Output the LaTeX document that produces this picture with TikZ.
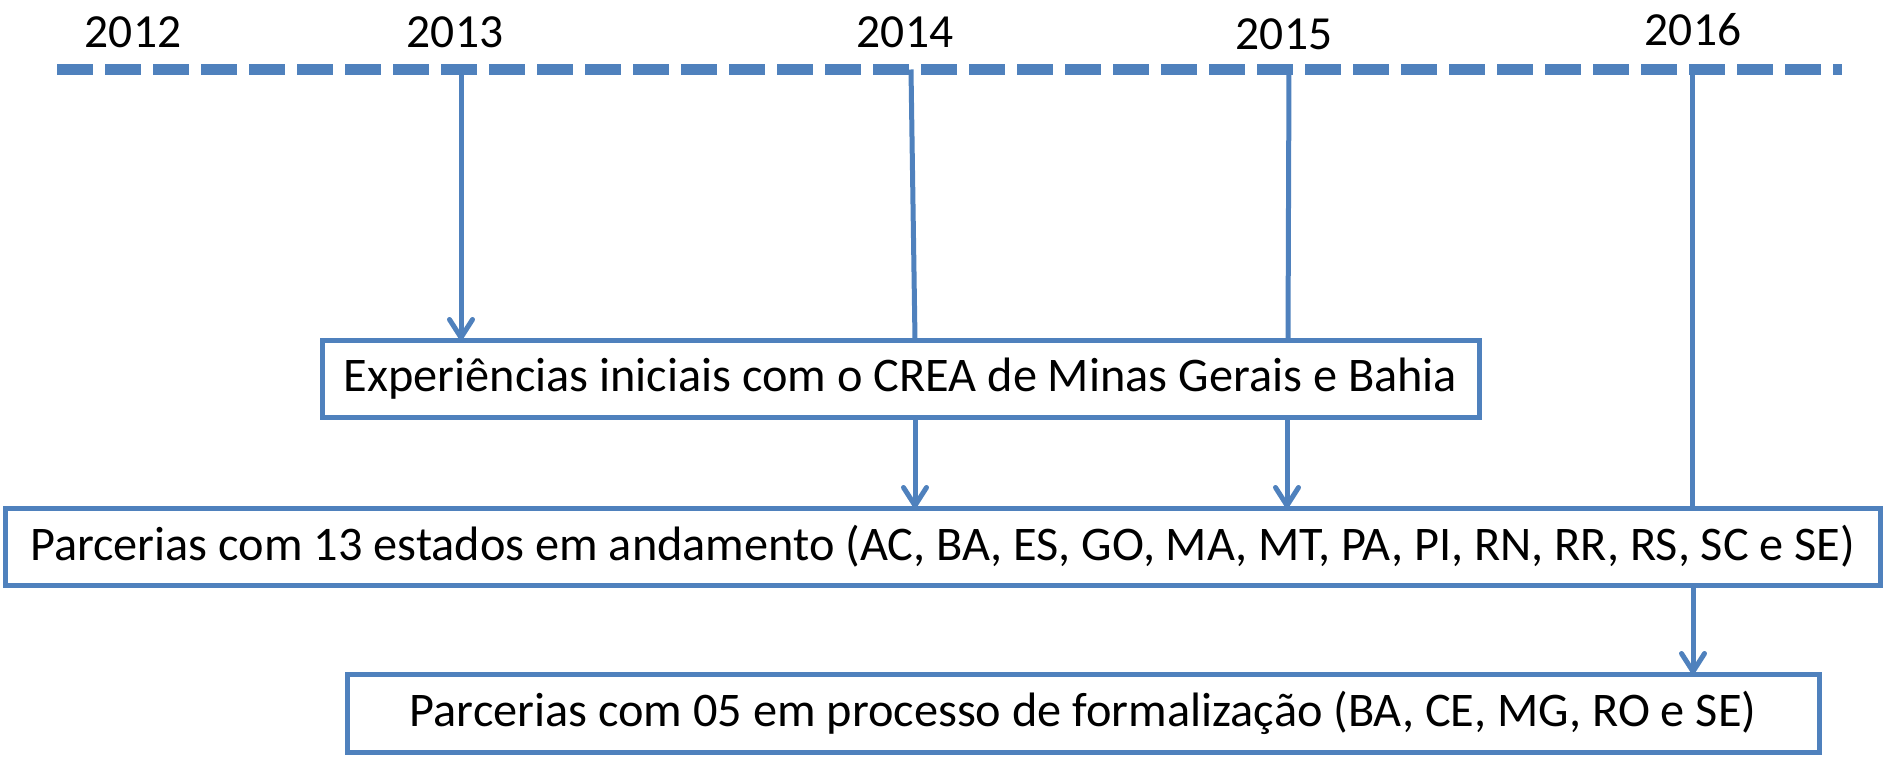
\documentclass[tikz,border=0pt]{standalone}
\usepackage{fontspec}
\setmainfont{Carlito}
\usetikzlibrary{arrows.meta}
\definecolor{lineblue}{RGB}{79,129,189}
\begin{document}
\begin{tikzpicture}[x=1pt,y=-1pt,
  year/.style={font=\fontsize{47.5}{56}\selectfont, text=black, inner sep=0pt, anchor=base},
  box/.style={draw=lineblue, line width=5pt, fill=white, rectangle, inner sep=0pt, outer sep=0pt,
     font=\fontsize{48.3}{58}\selectfont},
  link/.style={draw=lineblue, line width=5pt},
  arr/.style={link, -{Straight Barb[length=18pt,width=23pt,line cap=round,line join=round]}},
  tline/.style={draw=lineblue, line width=11pt, dash pattern=on 36pt off 12pt}
]
\useasboundingbox (0,0) rectangle (1883,757);

% timeline
\coordinate (tlstart) at (57,69.5);
\coordinate (tlend) at (1842,69.5);
\draw[tline] (tlstart) -- (tlend);

% years
\node[year] (y2012) at (133,48) {2012};
\node[year] (y2013) at (455,48) {2013};
\node[year] (y2014) at (905,48) {2014};
\node[year] (y2015) at (1284,50) {2015};
\node[year] (y2016) at (1693,46) {2016};

% timeline points
\coordinate (t2013) at (461,69.5);
\coordinate (t2014) at (911,69.5);
\coordinate (t2015) at (1289,69.5);
\coordinate (t2016) at (1692,69.5);

% boxes
\node[box, minimum width=1157pt, minimum height=77pt] (b1) at (900.5,378.5)
  {Experiências iniciais com o CREA de Minas Gerais e Bahia};
\node[box, minimum width=1875pt, minimum height=77pt] (b2) at (942.5,546.5)
  {Parcerias com 13 estados em andamento (AC, BA, ES, GO, MA, MT, PA, PI, RN, RR, RS, SC e SE)};
\node[box, minimum width=1472pt, minimum height=78pt] (b3) at (1083,713)
  {Parcerias com 05 em processo de formalização (BA, CE, MG, RO e SE)};

% connectors
\draw[arr] (t2013) -- (b1.north -| t2013);
\draw[link] (t2014) -- ([xshift=14.5pt]b1.north);
\draw[link] (t2015) -- ([xshift=387.5pt]b1.north);
\draw[arr] ([xshift=14.5pt]b1.south) -- ([xshift=-27.5pt]b2.north);
\draw[arr] ([xshift=386.5pt]b1.south) -- ([xshift=344.5pt]b2.north);
\draw[link] (t2016) -- ([xshift=749.5pt]b2.north);
\draw[arr] ([xshift=750.5pt]b2.south) -- ([xshift=610pt]b3.north);
\end{tikzpicture}
\end{document}
